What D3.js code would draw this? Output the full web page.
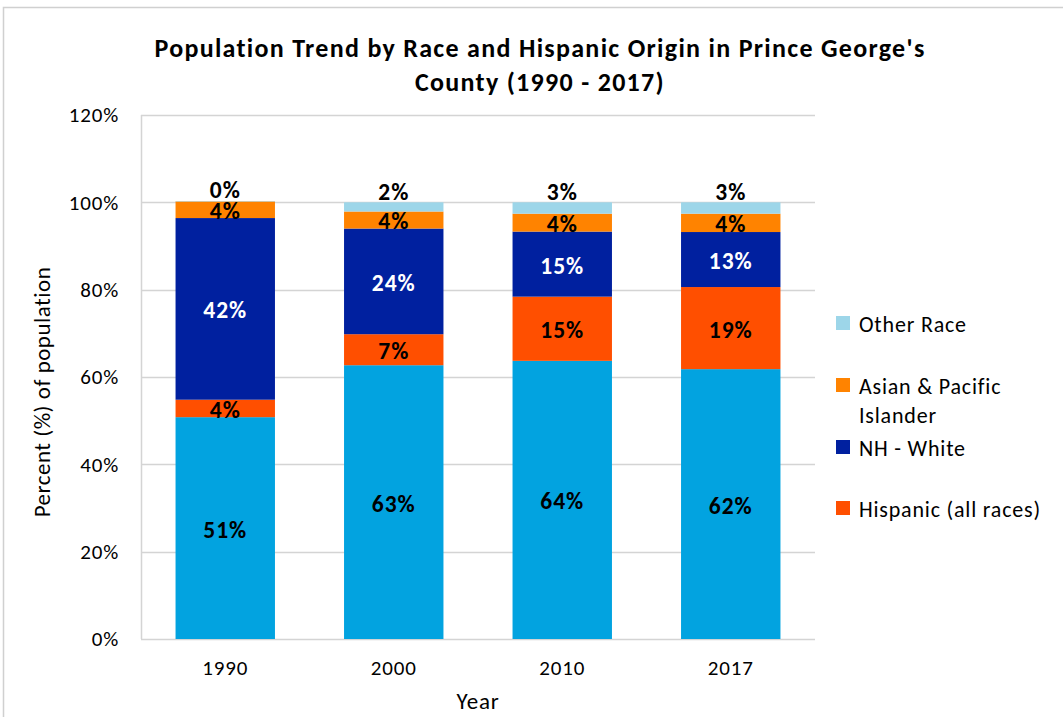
<!DOCTYPE html>
<html>
<head>
<meta charset="utf-8">
<script src="https://cdn.jsdelivr.net/npm/d3@7"></script>
<style>
  html, body { margin: 0; padding: 0; background: #fff; }
  svg { display: block; font-family: Carlito, Calibri, Lato, "Open Sans", sans-serif; }
</style>
</head>
<body>
<svg id="chart" width="1063" height="717"></svg>
<script>
// ---- data ----
const years = ["1990", "2000", "2010", "2017"];
const seriesNames = ["NH - Black", "Hispanic (all races)", "NH - White", "Asian & Pacific Islander", "Other Race"];
const nhBlack   = [50.8, 62.7, 63.7, 61.8];
const hispanic  = [4.0, 7.1, 14.7, 18.8];
const nhWhite   = [41.6, 24.2, 14.9, 12.6];
const asianPI   = [3.8, 3.9, 4.1, 4.2];
const otherRace = [0.1, 2.1, 2.6, 2.6];
const yTicks = [0, 20, 40, 60, 80, 100, 120];
const legendItems = ["Other Race", "Asian & Pacific Islander", "NH - White", "Hispanic (all races)"];

const colors = {
  "NH - Black": "#02A3E0",
  "Hispanic (all races)": "#FF4F00",
  "NH - White": "#00209F",
  "Asian & Pacific Islander": "#FF8300",
  "Other Race": "#9DD6E9"
};
const labelColors = {
  "NH - Black": "#000",
  "Hispanic (all races)": "#000",
  "NH - White": "#fff",
  "Asian & Pacific Islander": "#000",
  "Other Race": "#000"
};

(function () {
const seriesValues = [nhBlack, hispanic, nhWhite, asianPI, otherRace];
const rows = years.map((yr, i) => {
  const r = { year: yr };
  seriesNames.forEach((s, k) => r[s] = seriesValues[k][i]);
  return r;
});

const svg = d3.select("#chart");
const pL = 141, pR = 815, pT = 115, pB = 639;
const FONT = "Carlito, Calibri, Lato, sans-serif";

// chart border
svg.append("rect").attr("x", 3.5).attr("y", 7.5).attr("width", 1080).attr("height", 730)
  .attr("fill", "none").attr("stroke", "#d0d0d0").attr("stroke-width", 1.5);

const x = d3.scaleBand().domain(years).range([pL, pR]).paddingInner(0.41).paddingOuter(0.205);
const y = d3.scaleLinear().domain([0, 120]).range([pB, pT]);

// gridlines
svg.append("g").selectAll("line").data(yTicks).join("line")
  .attr("x1", pL).attr("x2", pR)
  .attr("y1", d => Math.round(y(d)) + 0.5).attr("y2", d => Math.round(y(d)) + 0.5)
  .attr("stroke", "#d4d4d4").attr("stroke-width", 1.5);
svg.append("line").attr("x1", pL + 0.5).attr("x2", pL + 0.5).attr("y1", pT).attr("y2", pB)
  .attr("stroke", "#d4d4d4").attr("stroke-width", 1.5);

// y axis
const yAxis = d3.axisLeft(y).tickValues(yTicks).tickFormat(d => d + "%").tickSize(0).tickPadding(22);
const gy = svg.append("g").attr("transform", `translate(${pL},0)`).call(yAxis);
gy.select(".domain").remove();
gy.selectAll("text").attr("font-size", 21).attr("letter-spacing", "0.8px").attr("fill", "#000").attr("font-family", FONT);

// x axis
const xAxis = d3.axisBottom(x).tickSize(0).tickPadding(21);
const gx = svg.append("g").attr("transform", `translate(0,${pB})`).call(xAxis);
gx.select(".domain").remove();
gx.selectAll("text").attr("font-size", 21).attr("letter-spacing", "0.8px").attr("fill", "#000").attr("font-family", FONT);

// stacks
const stack = d3.stack().keys(seriesNames)(rows);
const layers = svg.append("g").selectAll("g").data(stack).join("g")
  .attr("fill", d => colors[d.key]);
layers.selectAll("rect").data(d => d).join("rect")
  .attr("x", d => x(d.data.year))
  .attr("width", x.bandwidth())
  .attr("y", d => y(d[1]))
  .attr("height", d => y(d[0]) - y(d[1]));

// data labels
const lbl = svg.append("g").attr("font-weight", "bold").attr("font-size", 23.5)
  .attr("letter-spacing", "1px").attr("text-anchor", "middle");
stack.forEach(layer => {
  layer.forEach(d => {
    const v = d[1] - d[0];
    const isTop = layer.key === "Other Race";
    const cy = isTop ? y(d[1]) - 12 : (y(d[0]) + y(d[1])) / 2;
    lbl.append("text")
      .attr("x", x(d.data.year) + x.bandwidth() / 2)
      .attr("y", cy + 1)
      .attr("dy", "0.36em")
      .attr("fill", labelColors[layer.key])
      .text(Math.round(v) + "%");
  });
});

// title
const title = svg.append("g").attr("font-weight", "bold").attr("font-size", 26)
  .attr("letter-spacing", "1.3px").attr("text-anchor", "middle").attr("fill", "#000");
title.append("text").attr("x", 540).attr("y", 57).text("Population Trend by Race and Hispanic Origin in Prince George's");
title.append("text").attr("x", 540).attr("y", 91).text("County (1990 - 2017)");

// axis titles
svg.append("text").attr("transform", `translate(50,${(pT + pB) / 2 + 15}) rotate(-90)`)
  .attr("text-anchor", "middle").attr("font-size", 23).attr("letter-spacing", "0.5px")
  .attr("fill", "#000").text("Percent (%) of population");
svg.append("text").attr("x", 478).attr("y", 709).attr("text-anchor", "middle")
  .attr("font-size", 23).attr("letter-spacing", "0.8px").attr("fill", "#000").text("Year");

// legend
const legendPos = [
  { lines: ["Other Race"], y: 323 },
  { lines: ["Asian & Pacific", "Islander"], y: 385 },
  { lines: ["NH - White"], y: 447 },
  { lines: ["Hispanic (all races)"], y: 508 }
];
const lg = svg.append("g");
legendItems.forEach((name, i) => {
  const p = legendPos[i];
  lg.append("rect").attr("x", 836).attr("y", p.y - 7).attr("width", 14).attr("height", 14).attr("fill", colors[name]);
  p.lines.forEach((t, j) => {
    lg.append("text").attr("x", 859).attr("y", p.y + j * 29 + 1).attr("dy", "0.35em")
      .attr("font-size", 22).attr("letter-spacing", "0.8px").attr("fill", "#000").text(t);
  });
});
})();
</script>
</body>
</html>
